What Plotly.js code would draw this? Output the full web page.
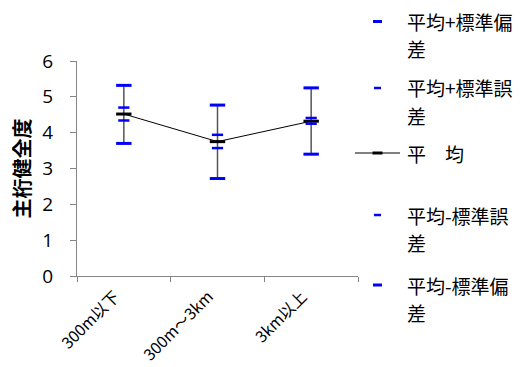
<!DOCTYPE html>
<html>
<head>
<meta charset="utf-8">
<script src="https://cdn.plot.ly/plotly-3.0.1.min.js"></script>
<style>html,body{margin:0;padding:0;background:#fff;}#chart{width:524px;height:367px;}</style>
</head>
<body>
<div id="chart"></div>
<script>
// ---- data ----
const categories = ['300m以下', '300m～3km', '3km以上'];
const meanVals   = [4.52, 3.75, 4.32];
const sdPlus     = [5.32, 4.77, 5.25];
const sePlus     = [4.70, 3.94, 4.41];
const seMinus    = [4.34, 3.57, 4.25];
const sdMinus    = [3.70, 2.72, 3.40];
const seriesNames = ['平均+標準偏差', '平均+標準誤差', '平　均', '平均-標準誤差', '平均-標準偏差'];
// legend labels wrapped as in the reference (line 1 / line 2)
const legendLine1 = ['平均+標準偏', '平均+標準誤', '平　均', '平均-標準誤', '平均-標準偏'];
const legendLine2 = ['差', '差', '', '差', '差'];
const yTitle = '主桁健全度';

// ---- layout geometry ----
const W = 524, H = 367;
const M = {l: 77, r: 166, t: 61, b: 91};
const pw = W - M.l - M.r, ph = H - M.t - M.b;
const px = x => (x - M.l) / pw;
const py = y => 1 - (y - M.t) / ph;

const BLUE = '#0000ff';
const jp = '"Noto Sans CJK JP", "Noto Sans", sans-serif';

// high-low line segments from the data arrays
const hlX = [], hlY = [];
categories.forEach((c, i) => { hlX.push(c, c, null); hlY.push(sdMinus[i], sdPlus[i], null); });

const dash = (name, vals, size, w, color) => ({
  type: 'scatter', mode: 'markers', name, x: categories, y: vals,
  marker: {symbol: 'line-ew', size, color, line: {color, width: w}},
  hoverinfo: 'skip', showlegend: false, cliponaxis: false
});

const traces = [
  {type: 'scatter', mode: 'lines', x: hlX, y: hlY, line: {color: '#555555', width: 1.5},
   showlegend: false, hoverinfo: 'skip'},
  {type: 'scatter', mode: 'lines+markers', name: seriesNames[2], x: categories, y: meanVals,
   line: {color: '#000', width: 1},
   marker: {symbol: 'line-ew', size: 11, color: '#000', line: {color: '#000', width: 3}},
   showlegend: false, hoverinfo: 'skip'},
  dash(seriesNames[0], sdPlus, 11, 3, BLUE),
  dash(seriesNames[1], sePlus, 8, 2.5, BLUE),
  dash(seriesNames[3], seMinus, 8, 2.5, BLUE),
  dash(seriesNames[4], sdMinus, 11, 3, BLUE)
];

// custom legend (matching reference placement)
const legY = [21.5, 88, 153, 215, 285];
const legMarkW = [9, 7, 10, 7, 9];
const legMarkT = [3, 2.5, 3, 2.5, 3];
const shapes = [];
const annotations = [];
legY.forEach((yy, i) => {
  const isMean = i === 2;
  if (isMean) {
    shapes.push({type: 'line', xref: 'paper', yref: 'paper', x0: px(355), x1: px(400), y0: py(yy), y1: py(yy),
                 line: {color: '#000', width: 1}});
  }
  const cx = 377.5;
  shapes.push({type: 'line', xref: 'paper', yref: 'paper', x0: px(cx - legMarkW[i] / 2), x1: px(cx + legMarkW[i] / 2),
               y0: py(yy), y1: py(yy), line: {color: isMean ? '#000' : BLUE, width: legMarkT[i]}});
  annotations.push({xref: 'paper', yref: 'paper', x: px(405), y: py(yy), xanchor: 'left', yanchor: 'middle',
                    text: legendLine1[i], showarrow: false, align: 'left',
                    font: {family: jp, size: 19, color: '#000'}});
  if (legendLine2[i]) {
    annotations.push({xref: 'paper', yref: 'paper', x: px(405), y: py(yy + 27), xanchor: 'left', yanchor: 'middle',
                      text: legendLine2[i], showarrow: false, align: 'left',
                      font: {family: jp, size: 19, color: '#000'}});
  }
});

const layout = {
  width: W, height: H,
  margin: M,
  paper_bgcolor: '#fff', plot_bgcolor: '#fff',
  showlegend: false,
  xaxis: {
    type: 'category', range: [-0.5, 2.5], tickson: 'boundaries',
    ticks: 'outside', ticklen: 5, tickcolor: '#868686', showline: true, linecolor: '#868686', linewidth: 1,
    showgrid: false, zeroline: false, tickangle: -45,
    tickfont: {family: jp, size: 16, color: '#000'},
    ticklabelshift: -9, ticklabelstandoff: 4
  },
  yaxis: {
    range: [0, 6], dtick: 1, ticks: 'outside', ticklen: 6, tickcolor: '#868686',
    showline: true, linecolor: '#868686', linewidth: 1, showgrid: false, zeroline: false,
    tickfont: {family: '"Open Sans", sans-serif', size: 19, color: '#000'},
    ticklabelstandoff: 13,
    title: {text: yTitle, font: {family: jp, size: 20, color: '#000', weight: 'bold'}, standoff: 6}
  },
  shapes, annotations
};

Plotly.newPlot('chart', traces, layout, {displayModeBar: false, staticPlot: true});
</script>
</body>
</html>
